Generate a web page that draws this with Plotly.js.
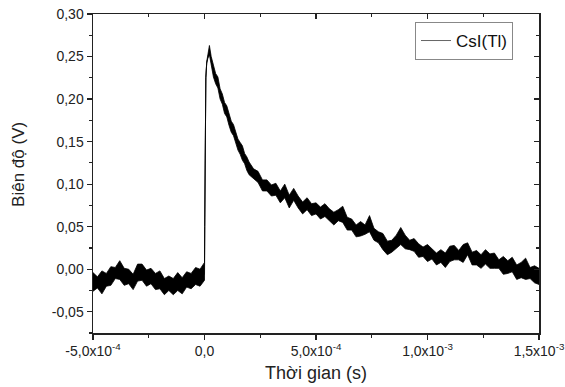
<!DOCTYPE html>
<html>
<head>
<meta charset="utf-8">
<script src="https://cdn.plot.ly/plotly-3.0.1.min.js"></script>
<style>html,body{margin:0;padding:0;background:#fff;}#chart{width:565px;height:387px;}</style>
</head>
<body>
<div id="chart"></div>
<script>
// Time in microseconds
var timeUs = [
  -500,-480,-460,-440,-420, -400,-380,-360,-340,-320,
  -300,-280,-260,-240,-220, -200,-180,-160,-140,-120,
  -100,-80,-60,-40,-20, 0,
  1,3,6,10,15,22,
  30,40,50,60,70, 80,90,100,110,120, 130,140,150,160,170, 180,190,200,
  220,240,260,280,300, 320,340,360,380,400, 420,440,460,480,500,
  520,540,560,580,600, 620,640,660,680,700, 720,740,760,780,800,
  820,840,860,880,900, 920,940,960,980,1000, 1020,1040,1060,1080,1100,
  1120,1140,1160,1180,1200, 1220,1240,1260,1280,1300, 1320,1340,1360,1380,1400,
  1420,1440,1460,1480,1500
];
// Signal centre (V)
var signal = [
  -0.014,-0.015,-0.015,-0.012,-0.008, -0.004,-0.002,-0.006,-0.010,-0.012,
  -0.006,-0.002,-0.007,-0.010,-0.012, -0.014,-0.017,-0.018,-0.018,-0.017,
  -0.016,-0.014,-0.012,-0.010,-0.008, -0.006,
  0.050,0.180,0.225,0.243,0.251,0.257,
  0.245,0.232,0.225,0.218,0.207, 0.199,0.191,0.184,0.176,0.169, 0.162,0.155,0.148,0.141,0.136, 0.130,0.124,0.120,
  0.112,0.106,0.101,0.097,0.094, 0.091,0.087,0.089,0.082,0.086, 0.080,0.075,0.074,0.072,0.070,
  0.069,0.067,0.065,0.062,0.061, 0.063,0.056,0.051,0.048,0.046, 0.046,0.052,0.044,0.036,0.032,
  0.028,0.026,0.030,0.037,0.034, 0.029,0.026,0.024,0.022,0.020, 0.018,0.015,0.013,0.013,0.016,
  0.020,0.017,0.018,0.022,0.016, 0.012,0.011,0.012,0.013,0.010, 0.007,0.005,0.004,0.003,0.000,
  -0.001,0.001,-0.003,-0.006,-0.005
];
// Noise band above / below the centre (V)
var noiseUp = [
  0.010,0.006,0.013,0.007,0.011, 0.006,0.012,0.007,0.010,0.006,
  0.012,0.008,0.006,0.011,0.007, 0.012,0.006,0.010,0.007,0.013,
  0.006,0.011,0.007,0.012,0.008, 0.014,
  0,0,0,0.001,0.004,0.006,
  0.005,0.007,0.005,0.008,0.005, 0.007,0.005,0.008,0.006,0.005, 0.008,0.006,0.005,0.008,0.009, 0.006,0.008,0.006,
  0.006,0.009,0.004,0.008,0.005, 0.010,0.005,0.011,0.005,0.009, 0.006,0.004,0.010,0.005,0.008,
  0.004,0.010,0.006,0.005,0.009, 0.011,0.005,0.008,0.004,0.010, 0.006,0.011,0.004,0.008,0.010,
  0.005,0.008,0.010,0.012,0.006, 0.005,0.010,0.006,0.004,0.009, 0.006,0.004,0.010,0.006,0.011,
  0.008,0.005,0.011,0.009,0.004, 0.010,0.006,0.011,0.005,0.009, 0.004,0.010,0.006,0.011,0.005,
  0.009,0.012,0.005,0.010,0.006
];
var noiseDown = [
  0.012,0.007,0.014,0.008,0.011, 0.007,0.010,0.013,0.007,0.012,
  0.008,0.011,0.013,0.007,0.012, 0.009,0.013,0.007,0.012,0.008,
  0.013,0.007,0.011,0.008,0.012, 0.007,
  0,0,0,0.001,0.003,0.005,
  0.005,0.006,0.007,0.005,0.007, 0.005,0.008,0.005,0.007,0.008, 0.005,0.007,0.008,0.006,0.008, 0.006,0.008,0.009,
  0.006,0.004,0.009,0.005,0.008, 0.004,0.009,0.005,0.010,0.005, 0.008,0.010,0.004,0.009,0.005,
  0.010,0.005,0.008,0.010,0.004, 0.008,0.010,0.005,0.010,0.007, 0.005,0.008,0.010,0.005,0.009,
  0.011,0.006,0.005,0.008,0.010, 0.006,0.005,0.010,0.007,0.011, 0.006,0.010,0.005,0.011,0.007,
  0.009,0.006,0.010,0.005,0.011, 0.007,0.010,0.006,0.012,0.009, 0.006,0.011,0.009,0.006,0.012,
  0.009,0.013,0.008,0.010,0.013
];
var seriesName = 'CsI(Tl)';
var xTickVals = [-500, 0, 500, 1000, 1500];
var xTickText = ['-5,0x10<sup>-4</sup>', '0,0', '5,0x10<sup>-4</sup>', '1,0x10<sup>-3</sup>', '1,5x10<sup>-3</sup>'];
var yTickVals = [-0.05, 0, 0.05, 0.10, 0.15, 0.20, 0.25, 0.30];
var yTickText = ['-0,05', '0,00', '0,05', '0,10', '0,15', '0,20', '0,25', '0,30'];
var xTitle = 'Thời gian (s)';
var yTitle = 'Biên độ (V)';

if (signal.length !== timeUs.length || noiseUp.length !== timeUs.length || noiseDown.length !== timeUs.length) {
  throw new Error('length mismatch ' + timeUs.length + ' ' + signal.length + ' ' + noiseUp.length + ' ' + noiseDown.length);
}
var lower = signal.map(function (v, i) { return v - noiseDown[i]; });
var upper = signal.map(function (v, i) { return v + noiseUp[i]; });

var FONT = 'Liberation Sans, Arial, sans-serif';
var traces = [
  {x: timeUs, y: signal, mode: 'lines', name: seriesName, line: {color: '#666', width: 1}},
  {x: timeUs, y: lower, mode: 'lines', line: {color: '#000', width: 0.8}, showlegend: false, hoverinfo: 'skip'},
  {x: timeUs, y: upper, mode: 'lines', line: {color: '#000', width: 0.8}, fill: 'tonexty', fillcolor: '#000', showlegend: false, hoverinfo: 'skip'},
  {x: [-1000], y: [-1], xaxis: 'x2', yaxis: 'y2', mode: 'markers', marker: {opacity: 0}, showlegend: false, hoverinfo: 'skip'}
];
var layout = {
  width: 565, height: 387,
  margin: {l: 93, r: 26, t: 14, b: 54},
  paper_bgcolor: '#fff', plot_bgcolor: '#fff',
  font: {family: FONT, color: '#222'},
  showlegend: true,
  legend: {x: 0.722, y: 0.975, xanchor: 'left', yanchor: 'top', bgcolor: '#fff', bordercolor: '#888', borderwidth: 1,
           font: {family: FONT, size: 17, color: '#111'}, tracegroupgap: 0},
  xaxis: {
    range: [-500, 1500], tickmode: 'array', tickvals: xTickVals, ticktext: xTickText,
    ticks: 'outside', ticklen: 5, tickwidth: 1.2, tickcolor: '#222',
    minor: {dtick: 250, ticks: 'outside', ticklen: 3, tickwidth: 1.2, tickcolor: '#222', showgrid: false},
    showline: true, linecolor: '#222', linewidth: 1.5, showgrid: false, zeroline: false,
    tickfont: {family: FONT, size: 14, color: '#222'},
    title: {text: xTitle, font: {family: FONT, size: 18, color: '#222'}, standoff: 8}
  },
  yaxis: {
    range: [-0.075, 0.30], tickmode: 'array', tickvals: yTickVals, ticktext: yTickText,
    ticks: 'outside', ticklen: 5, tickwidth: 1.2, tickcolor: '#222',
    minor: {dtick: 0.025, ticks: 'outside', ticklen: 3, tickwidth: 1.2, tickcolor: '#222', showgrid: false},
    showline: true, linecolor: '#222', linewidth: 1.5, showgrid: false, zeroline: false,
    tickfont: {family: FONT, size: 14, color: '#222'}
  },
  xaxis2: {
    overlaying: 'x', side: 'top', anchor: 'y2', range: [-500, 1500], tickmode: 'array', tickvals: xTickVals,
    showticklabels: false, ticks: 'inside', ticklen: 5, tickwidth: 1.2, tickcolor: '#222',
    minor: {dtick: 250, ticks: 'inside', ticklen: 3, tickwidth: 1.2, tickcolor: '#222', showgrid: false},
    showline: true, linecolor: '#222', linewidth: 1.5, showgrid: false, zeroline: false
  },
  yaxis2: {
    overlaying: 'y', side: 'right', anchor: 'x2', range: [-0.075, 0.30], tickmode: 'array', tickvals: yTickVals,
    showticklabels: false, ticks: 'inside', ticklen: 5, tickwidth: 1.2, tickcolor: '#222',
    minor: {dtick: 0.025, ticks: 'inside', ticklen: 3, tickwidth: 1.2, tickcolor: '#222', showgrid: false},
    showline: true, linecolor: '#222', linewidth: 1.5, showgrid: false, zeroline: false
  },
  annotations: [{
    text: yTitle, xref: 'paper', yref: 'paper', x: -0.166, y: 0.53, xanchor: 'center', yanchor: 'middle',
    textangle: -90, showarrow: false, font: {family: FONT, size: 17, color: '#222'}
  }]
};
Plotly.newPlot('chart', traces, layout, {displayModeBar: false, staticPlot: true});
</script>
</body>
</html>
